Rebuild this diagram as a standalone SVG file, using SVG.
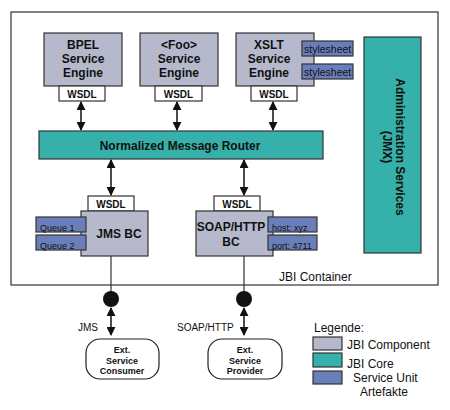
<svg xmlns="http://www.w3.org/2000/svg" width="450" height="410" viewBox="0 0 450 410">
<style>
text{font-family:"Liberation Sans",Arial,sans-serif;fill:#111}
.comp{fill:#b6b9cb;stroke:#333;stroke-width:1.2}
.core{fill:#36b0aa;stroke:#333;stroke-width:1.2}
.su{fill:#6a7fba;stroke:#333;stroke-width:1.2}
.wsdl{fill:#fff;stroke:#333;stroke-width:1.2}
.t{font-size:12px;font-weight:bold;text-anchor:middle}
.w{font-size:10px;font-weight:bold;text-anchor:middle}
.s{font-size:9px}
.ss{font-size:10.5px}
.e{font-size:9px;font-weight:bold;text-anchor:middle}
.l{font-size:12px}
.c{stroke:#111;stroke-width:1.5;fill:none}
</style>
<defs>
<marker id="ah" viewBox="0 0 10 10" refX="9" refY="5" markerWidth="6" markerHeight="6" orient="auto-start-reverse">
<path d="M0,0 L10,5 L0,10 z" fill="#111"/>
</marker>
</defs>
<rect width="450" height="410" fill="#fff"/>
<g id="container">
<rect x="11" y="12" width="427" height="273" fill="#fff" stroke="#333" stroke-width="1.2"/>
<text x="279" y="281" class="l">JBI Container</text>
</g>
<g id="bpel">
<rect class="comp" x="44" y="33" width="78" height="53"/>
<text class="t" x="83" y="49">BPEL</text>
<text class="t" x="83" y="63">Service</text>
<text class="t" x="83" y="77">Engine</text>
<rect class="wsdl" x="59" y="86" width="46" height="15"/>
<text class="w" x="82" y="97.5">WSDL</text>
</g>
<g id="foo">
<rect class="comp" x="140" y="33" width="78" height="53"/>
<text class="t" x="179" y="49">&lt;Foo&gt;</text>
<text class="t" x="179" y="63">Service</text>
<text class="t" x="179" y="77">Engine</text>
<rect class="wsdl" x="155" y="86" width="47" height="15"/>
<text class="w" x="178.5" y="97.5">WSDL</text>
</g>
<g id="xslt">
<rect class="comp" x="236" y="33" width="78" height="53"/>
<text class="t" x="269" y="49">XSLT</text>
<text class="t" x="269" y="63">Service</text>
<text class="t" x="269" y="77">Engine</text>
<rect class="wsdl" x="251" y="86" width="46" height="15"/>
<text class="w" x="274" y="97.5">WSDL</text>
<rect class="su" x="302" y="41" width="51" height="15"/>
<text class="ss" x="304" y="53">stylesheet</text>
<rect class="su" x="302" y="64" width="51" height="15"/>
<text class="ss" x="304" y="76">stylesheet</text>
</g>
<g id="admin">
<rect class="core" x="364" y="37" width="57" height="216"/>
<text class="t" transform="translate(396,147) rotate(90)">Administration Services</text>
<text class="t" transform="translate(383,147) rotate(90)">(JMX)</text>
</g>
<g id="nmr">
<rect class="core" x="39" y="131" width="284" height="28"/>
<text class="t" x="180" y="149.5">Normalized Message Router</text>
</g>
<g id="jms">
<rect class="wsdl" x="88" y="196" width="46" height="15"/>
<text class="w" x="111" y="207.5">WSDL</text>
<rect class="comp" x="81" y="211" width="67" height="45"/>
<text class="t" x="119" y="238">JMS BC</text>
<rect class="su" x="36" y="217" width="50" height="15"/>
<text class="s" x="40" y="230.5">Queue 1</text>
<rect class="su" x="36" y="235" width="50" height="15"/>
<text class="s" x="40" y="248.5">Queue 2</text>
</g>
<g id="soap">
<rect class="wsdl" x="214" y="196" width="46" height="15"/>
<text class="w" x="237" y="207.5">WSDL</text>
<rect class="comp" x="196" y="211" width="77" height="45"/>
<text class="t" x="231" y="231">SOAP/HTTP</text>
<text class="t" x="231" y="246">BC</text>
<rect class="su" x="268" y="217" width="49" height="15"/>
<text class="s" x="272" y="230.5">host: xyz</text>
<rect class="su" x="268" y="235" width="49" height="15"/>
<text class="s" x="272" y="248.5">port: 4711</text>
</g>
<g id="consumer">
<rect x="86" y="339" width="73" height="40" rx="14" fill="#fff" stroke="#222" stroke-width="1.2"/>
<text class="e" x="122" y="353">Ext.</text>
<text class="e" x="122" y="363.5">Service</text>
<text class="e" x="122" y="374">Consumer</text>
</g>
<g id="provider">
<rect x="208" y="339" width="74" height="40" rx="14" fill="#fff" stroke="#222" stroke-width="1.2"/>
<text class="e" x="245" y="353">Ext.</text>
<text class="e" x="245" y="363.5">Service</text>
<text class="e" x="245" y="374">Provider</text>
</g>
<g id="connectors">
<line class="c" x1="81" y1="102" x2="81" y2="130" marker-start="url(#ah)" marker-end="url(#ah)"/>
<line class="c" x1="177" y1="102" x2="177" y2="130" marker-start="url(#ah)" marker-end="url(#ah)"/>
<line class="c" x1="273" y1="102" x2="273" y2="130" marker-start="url(#ah)" marker-end="url(#ah)"/>
<line class="c" x1="111" y1="160" x2="111" y2="195" marker-start="url(#ah)" marker-end="url(#ah)"/>
<line class="c" x1="244" y1="160" x2="244" y2="195" marker-start="url(#ah)" marker-end="url(#ah)"/>
<line x1="111" y1="256" x2="111" y2="299" stroke="#333" stroke-width="1.2"/>
<line x1="244" y1="256" x2="244" y2="299" stroke="#333" stroke-width="1.2"/>
<circle cx="111" cy="299" r="8" fill="#111"/>
<circle cx="244" cy="299" r="8" fill="#111"/>
<line class="c" x1="111" y1="308" x2="111" y2="335" marker-start="url(#ah)" marker-end="url(#ah)"/>
<line class="c" x1="244" y1="308" x2="244" y2="335" marker-start="url(#ah)" marker-end="url(#ah)"/>
<text x="78" y="331" class="l" style="font-size:10px">JMS</text>
<text x="177" y="331" class="l" style="font-size:10px">SOAP/HTTP</text>
</g>
<g id="legend">
<text x="314" y="332" class="l">Legende:</text>
<rect class="comp" x="313" y="337" width="29" height="13"/>
<rect class="core" x="313" y="353" width="29" height="14"/>
<rect class="su" x="313" y="371" width="29" height="13"/>
<text x="347" y="349" class="l">JBI Component</text>
<text x="347" y="368" class="l">JBI Core</text>
<text x="353" y="382" class="l">Service Unit</text>
<text x="360" y="396" class="l">Artefakte</text>
</g>
</svg>
